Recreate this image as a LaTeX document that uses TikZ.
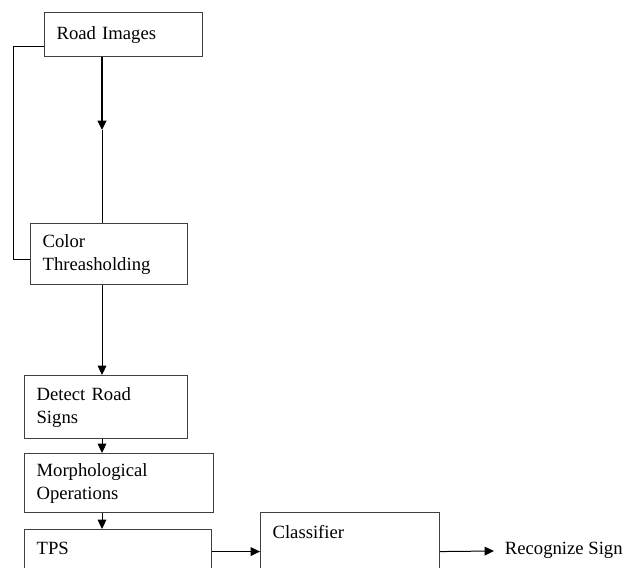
\documentclass[tikz,border=0pt]{standalone}
\usepackage{fontspec}
\setmainfont{Liberation Serif}
\usetikzlibrary{arrows.meta}
\tikzstyle{box} = [
    rectangle,
    anchor=north west,
    draw=black!75,
    line width=0.9pt,
    align=left,
    inner xsep=9pt,
    font=\fontsize{14}{17.25}\selectfont
]
\tikzstyle{tall} = [
    inner ysep=9.5pt,
    text depth=40pt
]
\tikzstyle{line} = [line width=0.75pt]
\tikzstyle{arrow} = [line width=0.75pt,-{Triangle[length=7pt,width=6.5pt]}]

\begin{document}
\begin{tikzpicture}[x=0.75pt,y=-0.75pt]
\useasboundingbox (0,0) rectangle (624,567);
\clip (0,0) rectangle (624,567);

\node (img) [box, text width=100.5pt, minimum height=33pt] at (44,12)
{Road Images};

\node (color) [box, text width=99.75pt, minimum height=45.75pt] at (30,223)
{Color\\Threasholding};

\node (detect) [box, text width=104.25pt, minimum height=47.25pt] at (24,375)
{Detect Road\\Signs};

\node (morph) [box, text width=123.75pt, minimum height=44.25pt] at (24,453)
{Morphological\\Operations};

\node (tps) [box, tall, text width=122.25pt] at (24,529)
{TPS};

\node (cls) [box, tall, text width=116.25pt] at (260,512)
{Classifier};

\node (sign) [anchor=mid west, inner xsep=8pt, font=\fontsize{14}{17.25}\selectfont] at (494,551)
{Recognize Sign};

\coordinate (spine) at (102,0);
\coordinate (mid) at (102,130);

\draw [arrow, line width=1.5pt] (img.south -| spine) -- (mid);
\draw [line] (mid) -- (color.north -| spine);
\draw [line] ([yshift=-9pt]img.west) -- ++(-31,0) |- ([yshift=-4pt]color.west);
\draw [arrow] (color.south -| spine) -- (detect.north -| spine);
\draw [arrow] (detect.south -| spine) -- (morph.north -| spine);
\draw [arrow] (morph.south -| spine) -- (tps.north -| spine);
\draw [arrow] (tps.mid east) -- (tps.mid east -| cls.west);
\draw [arrow] (tps.mid east -| cls.east) -- (sign.mid west);

\end{tikzpicture}
\end{document}
